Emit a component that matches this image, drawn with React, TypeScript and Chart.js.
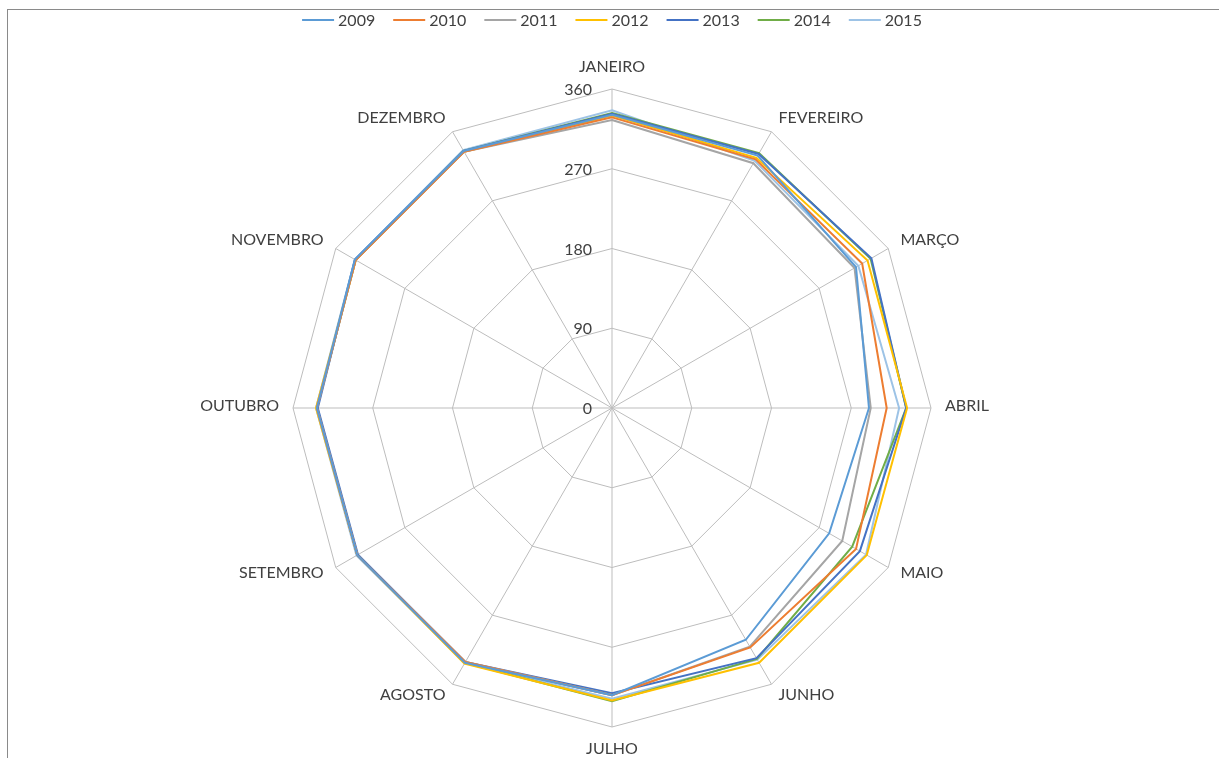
import React, { useEffect, useRef } from "react";
import { Chart, registerables } from "chart.js";

Chart.register(...registerables);

// Months around the radar, clockwise from the top
const months = [
  "JANEIRO",
  "FEVEREIRO",
  "MARÇO",
  "ABRIL",
  "MAIO",
  "JUNHO",
  "JULHO",
  "AGOSTO",
  "SETEMBRO",
  "OUTUBRO",
  "NOVEMBRO",
  "DEZEMBRO",
];

const years = ["2009", "2010", "2011", "2012", "2013", "2014", "2015"];
const yearColors = ["#5B9BD5", "#ED7D31", "#A5A5A5", "#FFC000", "#4472C4", "#70AD47", "#9DC3E6"];

// Monthly values per year
const v2009 = [331, 329, 318, 290, 283, 302, 324, 332, 332, 333, 335, 335];
const v2010 = [328, 324, 326, 310, 318, 312, 324, 331, 332, 333, 334, 334];
const v2011 = [325, 319, 316, 292, 300, 311, 324, 331, 332, 333, 334, 334];
const v2012 = [330, 326, 333, 333, 332, 332, 330, 333, 332, 334, 334, 334];
const v2013 = [332, 331, 338, 332, 323, 326, 322, 331, 331, 332, 335, 335];
const v2014 = [333, 332, 337, 332, 313, 327, 331, 332, 332, 333, 334, 335];
const v2015 = [336, 322, 321, 324, 331, 328, 328, 332, 333, 334, 335, 336];
const seriesValues = [v2009, v2010, v2011, v2012, v2013, v2014, v2015];

// Radial axis range
const axisMin = 0;
const axisMax = 360;
const axisStep = 90;

const FONT = "16px Lato, 'Open Sans', sans-serif";
const TEXT_COLOR = "#404040";

const radarTextPlugin = {
  id: "radarText",
  afterDraw(chart: any) {
    const ctx: CanvasRenderingContext2D = chart.ctx;
    const scale = chart.scales.r;
    ctx.save();
    ctx.font = FONT;
    ctx.fillStyle = TEXT_COLOR;

    // value labels along the top spoke, left of the axis line
    ctx.textAlign = "right";
    ctx.textBaseline = "middle";
    scale.ticks.forEach((t: any) => {
      const d = scale.getDistanceFromCenterForValue(t.value);
      ctx.fillText(String(t.value), scale.xCenter - 20, scale.yCenter - d + 1);
    });

    // month labels around the outer ring
    const labels: string[] = chart.data.labels;
    labels.forEach((label, i) => {
      const p = scale.getPointPosition(i, scale.drawingArea + 14);
      const a = scale.getIndexAngle(i);
      const sx = Math.sin(a);
      const cy = -Math.cos(a);
      let align: CanvasTextAlign = "center";
      let base: CanvasTextBaseline = "middle";
      let dy = -2;
      if (Math.abs(sx) < 0.01) {
        base = cy < 0 ? "bottom" : "top";
        dy = 0;
      } else {
        align = sx > 0 ? "left" : "right";
      }
      ctx.textAlign = align;
      ctx.textBaseline = base;
      ctx.fillText(label, p.x, p.y + dy);
    });

    // legend row at the top
    const lineLen = 32;
    const lineGap = 4;
    const itemGap = 18;
    const items = chart.data.datasets.map((ds: any) => ({
      text: ds.label,
      color: ds.borderColor,
      w: lineLen + lineGap + ctx.measureText(ds.label).width,
    }));
    const total = items.reduce((s: number, it: any) => s + it.w, 0) + itemGap * (items.length - 1);
    let x = scale.xCenter - total / 2;
    const ly = 20;
    ctx.textAlign = "left";
    ctx.textBaseline = "middle";
    items.forEach((it: any) => {
      ctx.strokeStyle = it.color;
      ctx.lineWidth = 2;
      ctx.beginPath();
      ctx.moveTo(x, ly);
      ctx.lineTo(x + lineLen, ly);
      ctx.stroke();
      ctx.fillStyle = TEXT_COLOR;
      ctx.fillText(it.text, x + lineLen + lineGap, ly + 1);
      x += it.w + itemGap;
    });
    ctx.restore();
  },
};

export default function App() {
  const canvasRef = useRef<HTMLCanvasElement | null>(null);

  useEffect(() => {
    const canvas = canvasRef.current;
    if (!canvas) return;
    const chart = new Chart(canvas, {
      type: "radar",
      data: {
        labels: months,
        datasets: years.map((y, i) => ({
          label: y,
          data: seriesValues[i],
          borderColor: yearColors[i],
          backgroundColor: "transparent",
          borderWidth: 2,
          pointRadius: 0,
          pointHoverRadius: 0,
          fill: false,
          tension: 0,
        })),
      },
      options: {
        responsive: false,
        animation: false,
        devicePixelRatio: 1,
        layout: { padding: { left: 293, top: 89, right: 288, bottom: 31 } },
        plugins: {
          legend: { display: false },
          tooltip: { enabled: false },
        },
        scales: {
          r: {
            min: axisMin,
            max: axisMax,
            ticks: { stepSize: axisStep, display: false },
            grid: { color: "#BDBDBD", lineWidth: 1, circular: false },
            angleLines: { color: "#BDBDBD", lineWidth: 1 },
            pointLabels: { display: false },
          },
        },
      },
      plugins: [radarTextPlugin],
    });
    return () => chart.destroy();
  }, []);

  return (
    <div style={{ position: "absolute", left: 0, top: 0, width: 1219, height: 758, background: "#fff", overflow: "hidden" }}>
      <div
        style={{
          position: "absolute",
          left: 7,
          top: 9,
          width: 1219,
          height: 758,
          borderTop: "1px solid #8a8a8a",
          borderLeft: "1px solid #8a8a8a",
        }}
      />
      <canvas ref={canvasRef} width={1219} height={758} style={{ position: "absolute", left: 0, top: 0 }} />
    </div>
  );
}
